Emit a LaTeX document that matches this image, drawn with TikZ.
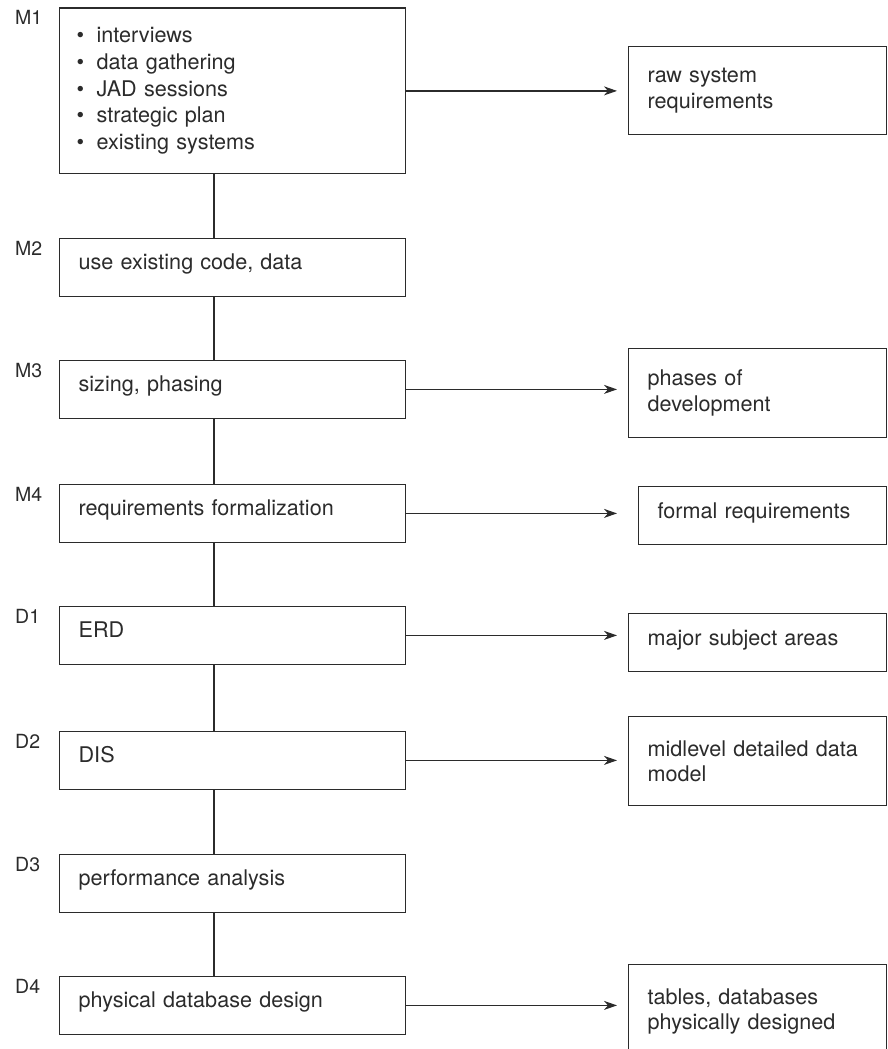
\documentclass[tikz,border=0pt]{standalone}
\usepackage{fontspec}
\setmainfont{TeX Gyre Heros}
\usetikzlibrary{arrows.meta}
\definecolor{ink}{HTML}{2B2B2B}
\begin{document}
\begin{tikzpicture}[x=1pt,y=-1pt,
  boxbase/.style={draw=ink, line width=1.3pt, anchor=north west, inner ysep=0pt,
    align=left, text=ink, font=\fontsize{21.6}{25.5}\selectfont},
  stage/.style={boxbase, minimum width=346pt, text width=308pt, inner xsep=19pt,
    minimum height=57.5pt, text height=15pt, text depth=10pt},
  stagelist/.style={boxbase, minimum width=346pt, text width=312pt, inner xsep=17pt,
    font=\fontsize{21.6}{26.7}\selectfont},
  result/.style={boxbase, minimum width=258pt, text width=220pt, inner xsep=19pt},
  tag/.style={anchor=base west, inner sep=0pt, text=ink, font=\fontsize{19.5}{22}\selectfont},
  link/.style={draw=ink, line width=1.3pt},
  arr/.style={draw=ink, line width=1.3pt, -{Stealth[length=13pt,width=9pt,inset=4pt]}}
]
\useasboundingbox (0,0) rectangle (887,1049);
\clip (0,0) rectangle (887,1049);

% stage boxes on the left
\node[stagelist, minimum height=165.5pt] (m1) at (59,7.5)
  {\makebox[20pt][l]{\textbullet}interviews\\
   \makebox[20pt][l]{\textbullet}data gathering\\
   \makebox[20pt][l]{\textbullet}JAD sessions\\
   \makebox[20pt][l]{\textbullet}strategic plan\\
   \makebox[20pt][l]{\textbullet}existing systems};
\node[stage] (m2) at (59,238) {use existing code, data};
\node[stage] (m3) at (59,360) {sizing, phasing};
\node[stage] (m4) at (59,484) {requirements formalization};
\node[stage] (d1) at (59,606) {ERD};
\node[stage] (d2) at (59,731) {DIS};
\node[stage] (d3) at (59,854) {performance analysis};
\node[stage] (d4) at (59,976) {physical database design};

% stage tags
\foreach \n/\t in {m1/M1, m2/M2, m3/M3, m4/M4, d1/D1, d2/D2, d3/D3, d4/D4}
  \node[tag] (tag-\n) at ([xshift=-44pt,yshift=-17pt]\n.north west) {\t};

% result boxes on the right
\node[result, minimum height=88pt] (raw) at (628,46) {raw system\\requirements};
\node[result, minimum height=89pt] (phases) at (628,348) {phases of\\development};
\node[result, minimum width=248pt, text width=210pt, minimum height=58pt,
  text height=15pt, text depth=10pt] (formal) at (638,486) {formal requirements};
\node[result, minimum height=58pt, text height=15pt, text depth=10pt] (major) at (628,613) {major subject areas};
\node[result, minimum height=89pt] (mid) at (628,716) {midlevel detailed data\\model};
\node[result, minimum height=93.3pt] (tables) at (628,964) {tables, databases\\physically designed};

% spine connecting the stages
\foreach \a/\b in {m1/m2, m2/m3, m3/m4, m4/d1, d1/d2, d2/d3, d3/d4}
  \draw[link] ([xshift=155pt]\a.south west) -- ([xshift=155pt]\b.north west);

% outputs
\draw[arr, shorten >=11pt] (m1.east) -- (raw.west |- m1.east);
\draw[arr, shorten >=11pt] (m3.east) -- (phases.west |- m3.east);
\draw[arr, shorten >=21pt] (m4.east) -- (formal.west |- m4.east);
\draw[arr, shorten >=11pt] (d1.east) -- (major.west |- d1.east);
\draw[arr, shorten >=11pt] (d2.east) -- (mid.west |- d2.east);
\draw[arr, shorten >=11pt] (d4.east) -- (tables.west |- d4.east);
\end{tikzpicture}
\end{document}
